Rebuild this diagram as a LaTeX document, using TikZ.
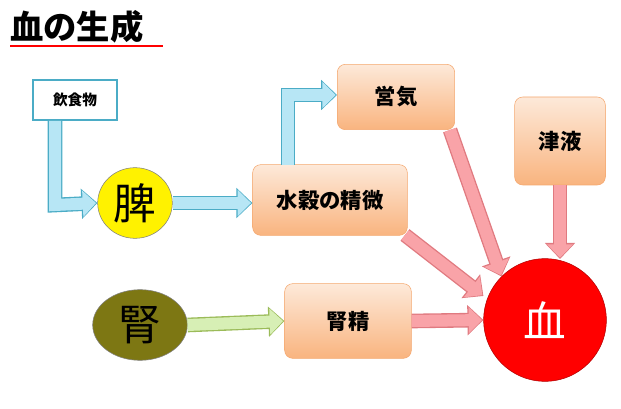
\documentclass[tikz,border=0pt]{standalone}
\usepackage{fontspec}
\newfontfamily\cjk{Noto Sans CJK JP}
\usetikzlibrary{arrows.meta, shapes.geometric}
\definecolor{peachtop}{HTML}{FDE9D9}
\definecolor{peachbot}{HTML}{F9B47F}
\definecolor{peachline}{HTML}{F4A76E}
\definecolor{bluefill}{HTML}{B7E6F5}
\definecolor{blueline}{HTML}{4BACC6}
\definecolor{pinkfill}{HTML}{F9A3A8}
\definecolor{pinkline}{HTML}{E07A80}
\definecolor{greenfill}{HTML}{D7EFB5}
\definecolor{greenline}{HTML}{9BBB59}
\tikzset{
  item/.style={rectangle, rounded corners=6pt, draw=peachline, top color=peachtop,
    bottom color=peachbot, font=\cjk\bfseries\fontsize{16}{16}\selectfont, inner sep=0pt},
  fat/.style={line width=9pt, -{Triangle[width=19pt,length=10pt]}, shorten >=1pt,
    preaction={draw=#1line, line width=11pt, shorten >=0pt, -{Triangle[width=22pt,length=12pt]}},
    draw=#1fill}
}
\begin{document}
\begin{tikzpicture}[x=0.75pt,y=-0.75pt]
  \useasboundingbox (0,0) rectangle (621,409);
  % title
  \node[font=\cjk\bfseries\fontsize{25}{25}\selectfont, anchor=west, inner sep=0pt] (title) at (10,27) {血の生成};
  \draw[red, line width=2.2pt] (10,46) -- (163,46);
  % nodes
  \node[draw=blueline, fill=white, line width=1pt, minimum width=63pt, minimum height=30pt,
    font=\cjk\bfseries\fontsize{11}{11}\selectfont] (food) at (75,100) {飲食物};
  \node[ellipse, draw=gray, fill=yellow, minimum width=56pt, minimum height=53pt,
    font=\cjk\fontsize{32}{32}\selectfont] (spleen) at (135,203) {脾};
  \node[ellipse, draw=gray, fill=olive!85!black, minimum width=71pt, minimum height=53pt,
    font=\cjk\fontsize{32}{32}\selectfont] (kidney) at (140,325) {腎};
  \node[item, minimum width=116pt, minimum height=53pt] (essence) at (330,200) {水穀の精微};
  \node[item, minimum width=88pt, minimum height=49pt] (nutri) at (396,97) {営気};
  \node[item, minimum width=68pt, minimum height=66pt] (fluid) at (560,141) {津液};
  \node[item, minimum width=95pt, minimum height=56pt] (kess) at (348,321) {腎精};
  \node[circle, draw=red!70!black, fill=red, minimum size=92pt, text=white,
    font=\cjk\fontsize{32}{32}\selectfont] (blood) at (545,320) {血};
  % arrows
  \coordinate (bend) at (55,205);
  \draw[fat=blue] (55,121) -- (bend) -- (spleen.west);
  \draw[fat=blue] (spleen.east) -- (essence.west |- spleen.east);
  \coordinate (up) at (288,95);
  \draw[fat=blue] (288,165) -- (up) -- (nutri.west |- up);
  \draw[fat=pink] (450,130) -- (blood.north west);
  \draw[fat=pink] (405,235) -- (blood.west |- 0,296);
  \coordinate (top) at (560,259);
  \draw[fat=pink] (fluid.south) -- (top);
  \draw[fat=green] (kidney.east) -- (kess.west);
  \draw[fat=pink] (kess.east) -- (blood.west);
\end{tikzpicture}
\end{document}
